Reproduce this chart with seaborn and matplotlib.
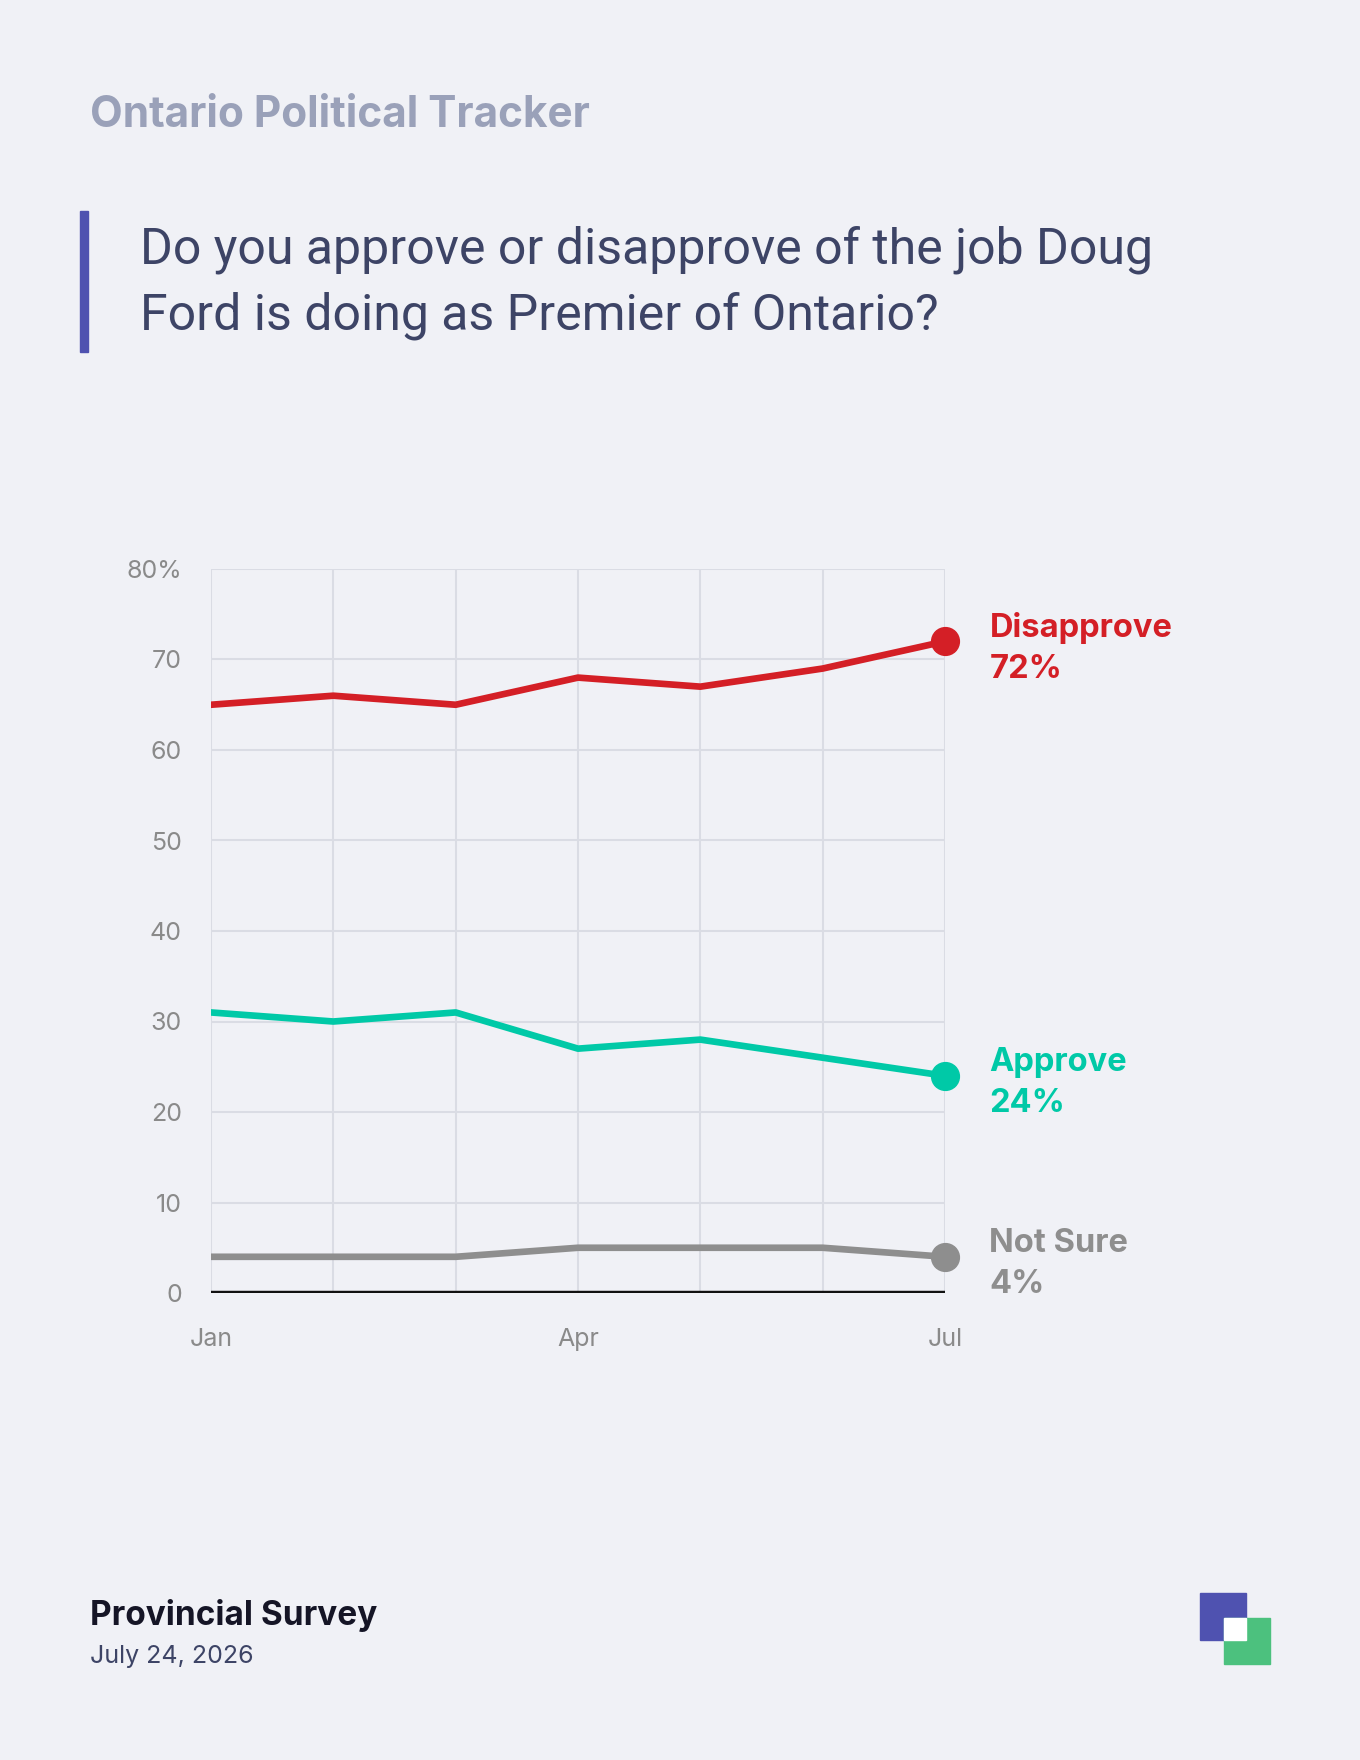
import pandas as pd
import numpy as np
import matplotlib
matplotlib.use("Agg")
import matplotlib.pyplot as plt
import seaborn as sns
from matplotlib.patches import Rectangle

# data
months = ["Jan", "Feb", "Mar", "Apr", "May", "Jun", "Jul"]
disapprove = [65, 66, 65, 68, 67, 69, 72]
approve = [31, 30, 31, 27, 28, 26, 24]
not_sure = [4, 4, 4, 5, 5, 5, 4]
series_names = ["Disapprove", "Approve", "Not Sure"]
colors = {"Disapprove": "#D41F26", "Approve": "#00C9A7", "Not Sure": "#8E8E8E"}
y_ticks = [0, 10, 20, 30, 40, 50, 60, 70, 80]
y_labels = ["0", "10", "20", "30", "40", "50", "60", "70", "80%"]
x_tick_pos = [0, 3, 6]

df = pd.DataFrame({
    "month": list(range(len(months))) * 3,
    "value": disapprove + approve + not_sure,
    "series": np.repeat(series_names, len(months)),
})

bg = "#F0F1F6"
sns.set_theme(style="white")
plt.rcParams["font.family"] = ["Inter", "DejaVu Sans"]

fig = plt.figure(figsize=(13.6, 17.6), dpi=100)
fig.patch.set_facecolor(bg)

# header
fig.text(90 / 1360, 1 - 127 / 1760, "Ontario Political Tracker", fontsize=30.5,
         fontweight="bold", color="#9AA1B9", va="baseline")
fig.patches.append(Rectangle((80 / 1360, 1 - 352 / 1760), 8 / 1360, 141 / 1760,
                             transform=fig.transFigure, color="#4F52B0"))
q_font = ["Roboto", "DejaVu Sans"]
fig.text(140 / 1360, 1 - 263 / 1760, "Do you approve or disapprove of the job Doug",
         fontsize=36, fontweight="normal", color="#3D4466", va="baseline", family=q_font)
fig.text(140 / 1360, 1 - 330 / 1760, "Ford is doing as Premier of Ontario?",
         fontsize=36, fontweight="normal", color="#3D4466", va="baseline", family=q_font)

ax = fig.add_axes([211 / 1360, 1 - 1293 / 1760, 734 / 1360, 724 / 1760])
ax.set_facecolor(bg)

sns.lineplot(data=df, x="month", y="value", hue="series", palette=colors,
             linewidth=4.8, legend=False, ax=ax, solid_capstyle="round")

for name, vals in zip(series_names, [disapprove, approve, not_sure]):
    ax.plot(len(vals) - 1, vals[-1], "o", color=colors[name], markersize=20,
            clip_on=False, zorder=5)
    ax.annotate(f"{name}\n{vals[-1]}%", xy=(len(vals) - 1, vals[-1]),
                xytext=(32, -5), textcoords="offset points", va="center",
                ha="left", fontsize=23.5, fontweight="bold", color=colors[name],
                linespacing=1.42, annotation_clip=False)

ax.set_xlim(0, 6)
ax.set_ylim(0, 80)
ax.set_yticks(y_ticks)
ax.set_yticklabels(y_labels)
ax.set_xticks(range(len(months)), minor=True)
ax.set_xticks(x_tick_pos)
ax.set_xticklabels([months[i] for i in x_tick_pos])
ax.tick_params(axis="both", which="both", length=0, labelsize=18, labelcolor="#8A8A8A")
ax.tick_params(axis="y", pad=21)
ax.tick_params(axis="x", pad=25)
ax.grid(True, which="both", axis="x", color="#DADCE4", linewidth=1.5)
ax.grid(True, axis="y", color="#DADCE4", linewidth=1.5)
ax.set_axisbelow(True)
for s in ax.spines.values():
    s.set_visible(False)
ax.axhline(0, color="#111111", linewidth=3.2, zorder=4)
ax.set_xlabel("")
ax.set_ylabel("")

# footer
fig.text(90 / 1360, 1 - 1625 / 1760, "Provincial Survey", fontsize=24,
         fontweight="bold", color="#151526", va="baseline")
fig.text(90 / 1360, 1 - 1663 / 1760, "July 24, 2026", fontsize=18,
         color="#3D4466", va="baseline")

# logo
def fig_rect(x0, y0, x1, y1, c):
    fig.patches.append(Rectangle((x0 / 1360, 1 - y1 / 1760), (x1 - x0) / 1360,
                                 (y1 - y0) / 1760, transform=fig.transFigure,
                                 color=c, zorder=3))

fig_rect(1200, 1593, 1246, 1640, "#4F52B0")
fig_rect(1224, 1618, 1270, 1664, "#4CC17E")
fig_rect(1224, 1618, 1246, 1640, "#FFFFFF")

fig.savefig("out.png", dpi=100, facecolor=bg)
